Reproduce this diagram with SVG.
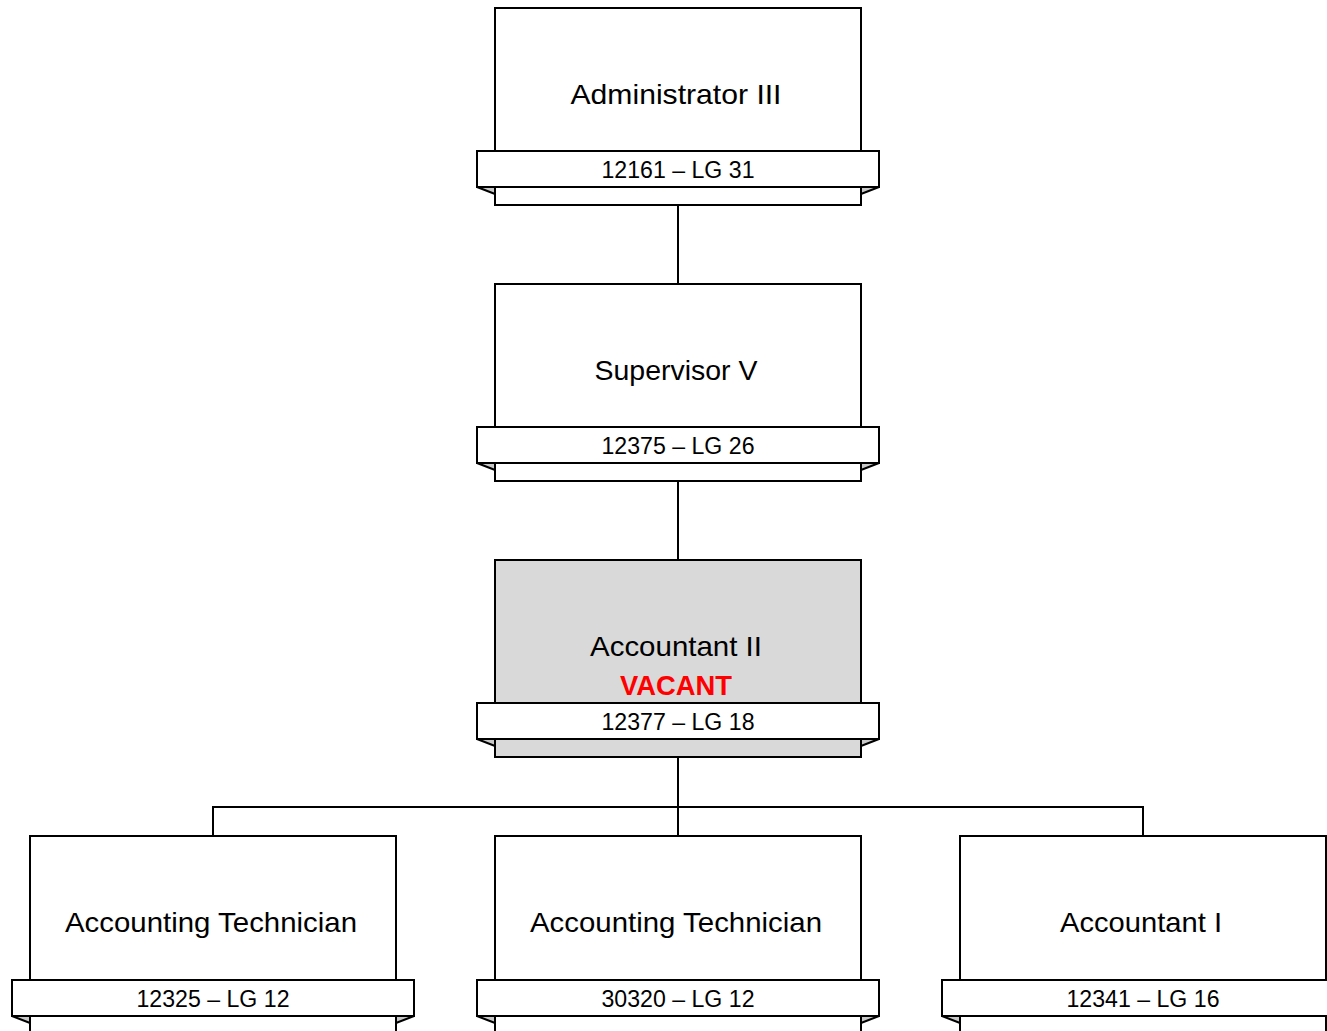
<svg xmlns="http://www.w3.org/2000/svg" width="1327" height="1031" viewBox="0 0 1327 1031">
<defs>
<style>
.box{fill:#ffffff;stroke:#000;stroke-width:2}
.grey{fill:#d9d9d9}
.fold{fill:#c8c8c8;stroke:#000;stroke-width:2;stroke-linejoin:miter}
.ttl{font-family:"Liberation Sans","Open Sans",sans-serif;font-size:28px;fill:#000;text-anchor:middle}
.num{font-family:"Liberation Sans","Open Sans",sans-serif;font-size:23px;fill:#000;text-anchor:middle}
.vac{font-family:"Liberation Sans","Open Sans",sans-serif;font-size:28px;font-weight:bold;fill:#ff0000;text-anchor:middle}
.ln{fill:none;stroke:#000;stroke-width:2}
</style>
</defs>
<rect width="1327" height="1031" fill="#ffffff"/>
<g id="connectors">
<line class="ln" x1="678" y1="205" x2="678" y2="284"/>
<line class="ln" x1="678" y1="481" x2="678" y2="560"/>
<line class="ln" x1="678" y1="757" x2="678" y2="836"/>
<line class="ln" x1="213" y1="807" x2="1143" y2="807"/>
<line class="ln" x1="213" y1="806" x2="213" y2="836"/>
<line class="ln" x1="1143" y1="806" x2="1143" y2="836"/>
</g>
<g id="node-admin">
<rect class="box" x="495" y="8" width="366" height="197"/>
<polygon class="fold" points="477,187 495,187 495,194"/>
<polygon class="fold" points="879,187 861,187 861,194"/>
<rect class="box" x="477" y="151" width="402" height="36"/>
<text class="ttl" x="676" y="104" textLength="211" lengthAdjust="spacingAndGlyphs">Administrator III</text>
<text class="num" x="678" y="178" textLength="153" lengthAdjust="spacingAndGlyphs">12161 – LG 31</text>
</g>
<g id="node-supervisor">
<rect class="box" x="495" y="284" width="366" height="197"/>
<polygon class="fold" points="477,463 495,463 495,470"/>
<polygon class="fold" points="879,463 861,463 861,470"/>
<rect class="box" x="477" y="427" width="402" height="36"/>
<text class="ttl" x="676" y="380" textLength="163" lengthAdjust="spacingAndGlyphs">Supervisor V</text>
<text class="num" x="678" y="454" textLength="153" lengthAdjust="spacingAndGlyphs">12375 – LG 26</text>
</g>
<g id="node-accountant2">
<rect class="box grey" x="495" y="560" width="366" height="197"/>
<polygon class="fold" points="477,739 495,739 495,746"/>
<polygon class="fold" points="879,739 861,739 861,746"/>
<rect class="box" x="477" y="703" width="402" height="36"/>
<text class="ttl" x="676" y="656" textLength="172" lengthAdjust="spacingAndGlyphs">Accountant II</text>
<text class="vac" x="676" y="695" textLength="112" lengthAdjust="spacingAndGlyphs">VACANT</text>
<text class="num" x="678" y="730" textLength="153" lengthAdjust="spacingAndGlyphs">12377 – LG 18</text>
</g>
<g id="node-tech1">
<rect class="box" x="30" y="836" width="366" height="197"/>
<polygon class="fold" points="12,1016 30,1016 30,1023"/>
<polygon class="fold" points="414,1016 396,1016 396,1023"/>
<rect class="box" x="12" y="980" width="402" height="36"/>
<text class="ttl" x="211" y="932" textLength="292" lengthAdjust="spacingAndGlyphs">Accounting Technician</text>
<text class="num" x="213" y="1007" textLength="153" lengthAdjust="spacingAndGlyphs">12325 – LG 12</text>
</g>
<g id="node-tech2">
<rect class="box" x="495" y="836" width="366" height="197"/>
<polygon class="fold" points="477,1016 495,1016 495,1023"/>
<polygon class="fold" points="879,1016 861,1016 861,1023"/>
<rect class="box" x="477" y="980" width="402" height="36"/>
<text class="ttl" x="676" y="932" textLength="292" lengthAdjust="spacingAndGlyphs">Accounting Technician</text>
<text class="num" x="678" y="1007" textLength="153" lengthAdjust="spacingAndGlyphs">30320 – LG 12</text>
</g>
<g id="node-accountant1">
<rect class="box" x="960" y="836" width="366" height="197"/>
<polygon class="fold" points="942,1016 960,1016 960,1023"/>
<polygon class="fold" points="1344,1016 1326,1016 1326,1023"/>
<rect class="box" x="942" y="980" width="402" height="36"/>
<text class="ttl" x="1141" y="932" textLength="162" lengthAdjust="spacingAndGlyphs">Accountant I</text>
<text class="num" x="1143" y="1007" textLength="153" lengthAdjust="spacingAndGlyphs">12341 – LG 16</text>
</g>
</svg>
